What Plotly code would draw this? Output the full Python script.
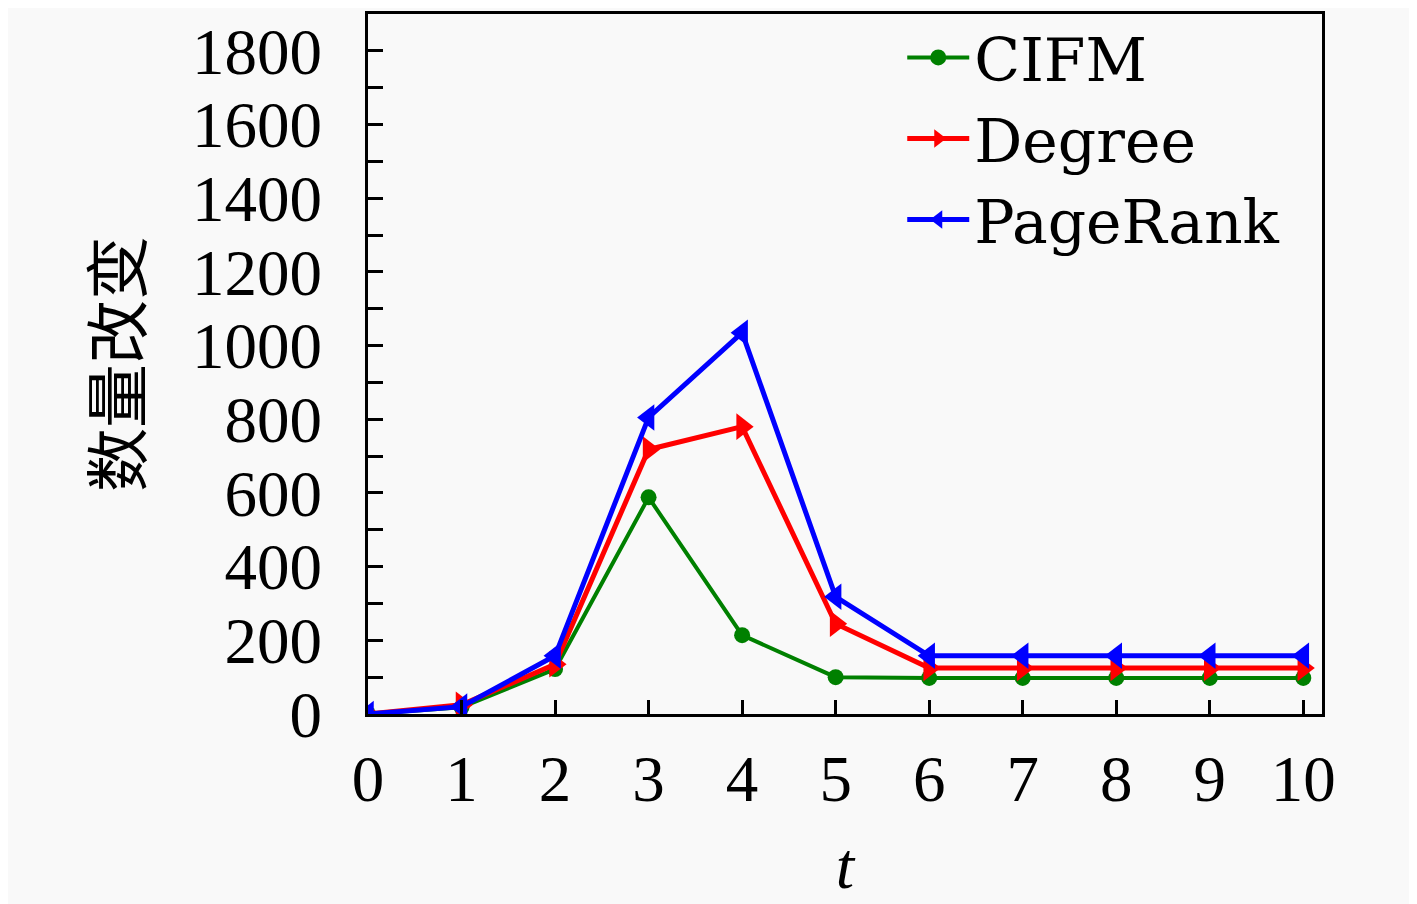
import plotly.graph_objects as go

t = [0, 1, 2, 3, 4, 5, 6, 7, 8, 9, 10]
cifm = [0, 18, 122, 588, 214, 100, 98, 98, 98, 98, 98]
degree = [0, 25, 135, 718, 780, 245, 125, 125, 125, 125, 125]
pagerank = [0, 20, 158, 805, 1035, 318, 158, 158, 158, 158, 158]

serif = "Liberation Serif"
bg = "#f9f9f9"

fig = go.Figure()
fig.add_trace(go.Scatter(x=t, y=cifm, name="CIFM", mode="lines+markers",
                         line=dict(color="#008000", width=4),
                         marker=dict(symbol="circle", size=16, color="#008000")))
fig.add_trace(go.Scatter(x=t, y=degree, name="Degree", mode="lines+markers",
                         line=dict(color="#ff0000", width=5),
                         marker=dict(symbol="triangle-right", size=23, color="#ff0000")))
fig.add_trace(go.Scatter(x=t, y=pagerank, name="PageRank", mode="lines+markers",
                         line=dict(color="#0000ff", width=5),
                         marker=dict(symbol="triangle-left", size=23, color="#0000ff")))

axis_common = dict(showline=True, linecolor="black", linewidth=3, mirror=True,
                   showgrid=False, zeroline=False, ticks="inside",
                   tickcolor="black", tickwidth=3,
                   tickfont=dict(family=serif, size=65, color="black"))

fig.update_xaxes(range=[0, 10.2], tickmode="array", tickvals=t, ticklen=14,
                 ticklabelstandoff=6,
                 title=dict(text="<i>t</i>", font=dict(family=serif, size=66, color="black"),
                            standoff=28),
                 **axis_common)
fig.update_yaxes(range=[0, 1900], dtick=200, ticklen=15, ticklabelstandoff=30,
                 minor=dict(dtick=100, ticks="inside", ticklen=15, tickwidth=3,
                            tickcolor="black", showgrid=False),
                 title=dict(text="数量改变", font=dict(family="Noto Sans CJK SC", size=64, color="black"),
                            standoff=30),
                 **axis_common)

# page body has an 8px margin, so the plot box is shifted back by that
fig.update_layout(width=1417, height=904, paper_bgcolor=bg, plot_bgcolor=bg,
                  margin=dict(l=360, r=103, t=4, b=198),
                  legend=dict(x=0.56, y=1.003, xanchor="left", yanchor="top",
                              bgcolor="rgba(0,0,0,0)", itemwidth=62,
                              font=dict(family="DejaVu Serif", size=60, color="black"),
                              tracegroupgap=0),
                  showlegend=True)

fig.write_html("out.html")
